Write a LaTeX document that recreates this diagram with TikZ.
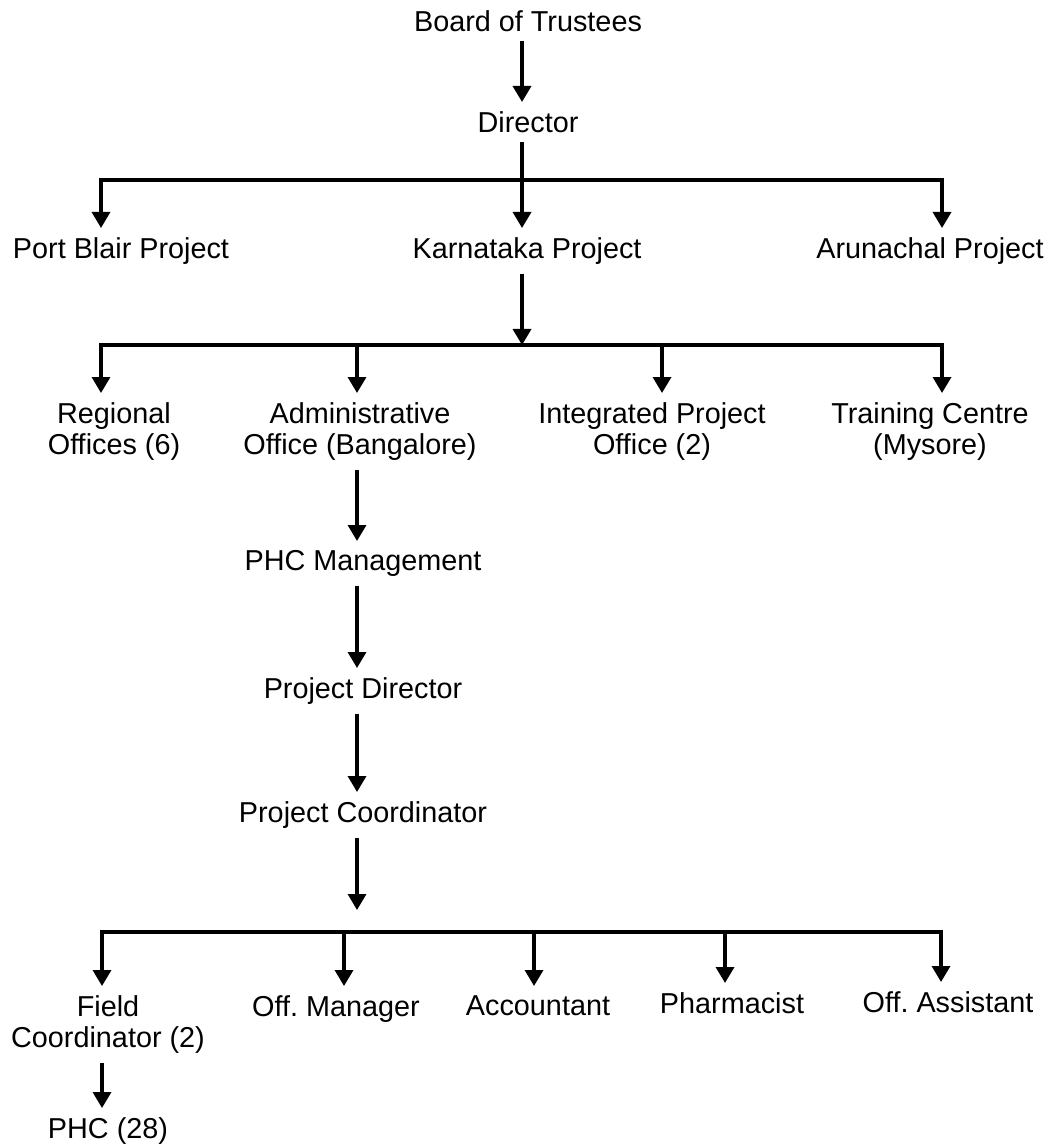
\documentclass[tikz,border=0pt]{standalone}
\usepackage{fontspec}
\setmainfont{Liberation Sans}
\usetikzlibrary{arrows.meta}
\begin{document}
\begin{tikzpicture}[x=0.5pt,y=-0.5pt,
  box/.style={anchor=north,align=center,inner xsep=0pt,inner ysep=4.5pt,font=\fontsize{14.4}{15.8}\selectfont},
  arr/.style={line width=1.7pt,-{Triangle[width=9pt,length=8pt]}},
  bus/.style={line width=1.7pt,line cap=rect}]
\useasboundingbox (0,0) rectangle (1051,1144);
\node[box] (board) at (528,1) {Board of Trustees};
\node[box] (dir) at (528,102) {Director};
\node[box] (pb) at (121,228) {Port Blair Project};
\node[box] (kp) at (527,228) {Karnataka Project};
\node[box] (ap) at (930,228) {Arunachal Project};
\node[box] (reg) at (114,393) {Regional\\Offices (6)};
\node[box] (adm) at (360,393) {Administrative\\Office (Bangalore)};
\node[box] (ipo) at (652,393) {Integrated Project\\Office (2)};
\node[box] (tc) at (930,393) {Training Centre\\(Mysore)};
\node[box] (phcm) at (363,541) {PHC Management};
\node[box] (pd) at (363,668) {Project Director};
\node[box] (pc) at (363,792) {Project Coordinator};
\node[box] (fc) at (108,986) {Field\\Coordinator (2)};
\node[box] (om) at (336,986) {Off.\ Manager};
\node[box] (acc) at (538,986) {Accountant};
\node[box] (ph) at (732,983) {Pharmacist};
\node[box] (oa) at (948,982) {Off.\ Assistant};
\node[box] (phc) at (108,1108) {PHC (28)};
% first split
\coordinate (b1l) at (101,180);
\coordinate (b1m) at (522,180);
\coordinate (b1r) at (942,180);
\draw[arr] (board.south -| b1m) -- (dir.north -| b1m);
\draw[bus] (b1l) -- (b1r);
\draw[arr] (dir.south -| b1m) -- (kp.north -| b1m);
\draw[arr] (b1l) -- (b1l |- pb.north);
\draw[arr] (b1r) -- (b1r |- ap.north);
% karnataka offices
\coordinate (b2l) at (101,345);
\coordinate (b2a) at (357,345);
\coordinate (b2m) at (522,345);
\coordinate (b2i) at (662,345);
\coordinate (b2r) at (942,345);
\draw[arr] (kp.south -| b2m) -- (b2m);
\draw[bus] (b2l) -- (b2r);
\draw[arr] (b2l) -- (b2l |- reg.north);
\draw[arr] (b2a) -- (b2a |- adm.north);
\draw[arr] (b2i) -- (b2i |- ipo.north);
\draw[arr] (b2r) -- (b2r |- tc.north);
% phc chain
\draw[arr] (adm.south -| b2a) -- (phcm.north -| b2a);
\draw[arr] (phcm.south -| b2a) -- (pd.north -| b2a);
\draw[arr] (pd.south -| b2a) -- (pc.north -| b2a);
\coordinate (pcend) at (357,910);
\draw[arr] (pc.south -| b2a) -- (pcend);
% staff
\coordinate (b3l) at (102,932);
\coordinate (b3o) at (344,932);
\coordinate (b3a) at (534,932);
\coordinate (b3p) at (725,932);
\coordinate (b3r) at (941,932);
\draw[bus] (b3l) -- (b3r);
\draw[arr] (b3l) -- (b3l |- fc.north);
\draw[arr] (b3o) -- (b3o |- om.north);
\draw[arr] (b3a) -- (b3a |- acc.north);
\draw[arr] (b3p) -- (b3p |- ph.north);
\draw[arr] (b3r) -- (b3r |- oa.north);
\draw[arr] (fc.south -| b3l) -- (phc.north -| b3l);
\end{tikzpicture}
\end{document}
